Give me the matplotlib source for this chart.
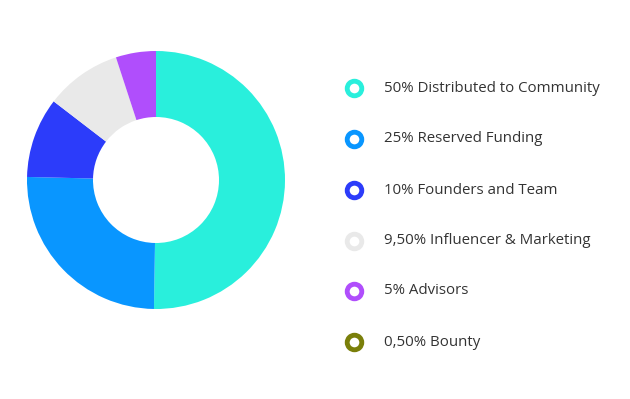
import matplotlib
matplotlib.use('Agg')
import numpy as np
import matplotlib.pyplot as plt

labels = ["50% Distributed to Community", "25% Reserved Funding", "10% Founders and Team",
          "9,50% Influencer & Marketing", "5% Advisors", "0,50% Bounty"]
shares = [50, 25, 10, 9.5, 5, 0.5]
colors = ["#29EFDC", "#0996FF", "#2C3CFA", "#E9E9E9", "#B04EFC", "#7A7F0A"]

fig = plt.figure(figsize=(6.3, 3.99), dpi=100)
ax = fig.add_axes([0, 0, 1, 1])

# the bounty slice is too small to show up in the ring, only in the legend
ax.pie(shares[:5], colors=colors[:5], startangle=90, counterclock=False,
       center=(156, 219), radius=129,
       wedgeprops=dict(width=66, linewidth=0))

# legend: ring markers + text
leg_y = 399 - np.array([88, 139, 190, 240.5, 291, 342])
for i, lab in enumerate(labels):
    ax.scatter(354, leg_y[i], s=110, facecolor='white', edgecolor=colors[i], linewidth=3.5, zorder=3)
    ax.text(384, leg_y[i], lab, fontsize=10.85, family='Open Sans', color='#333333',
            va='center', ha='left')

ax.set_xlim(0, 630)
ax.set_ylim(0, 399)
ax.set_aspect('equal')
ax.axis('off')

plt.savefig('out.png', dpi=100)
